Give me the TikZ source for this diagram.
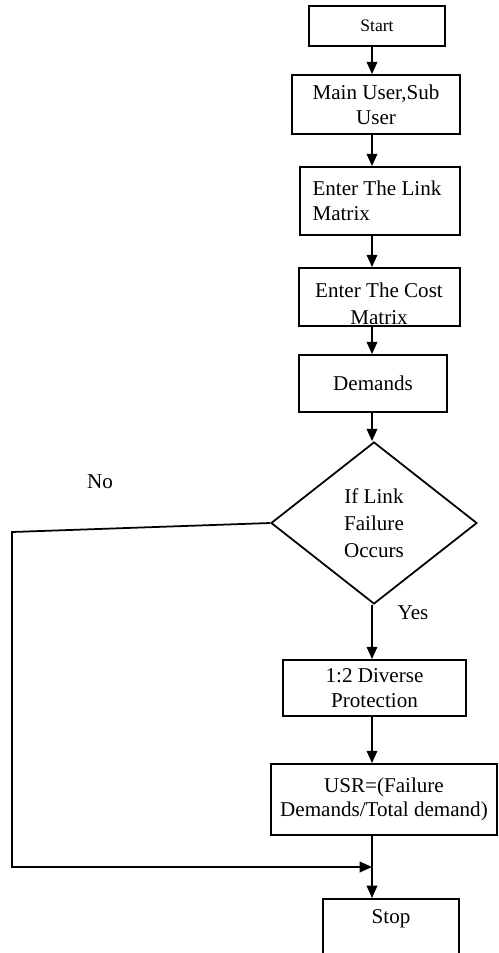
\documentclass[tikz,border=0pt]{standalone}
\usepackage{fontspec}
\setmainfont{Liberation Serif}
\usetikzlibrary{shapes.geometric,arrows.meta,positioning}

\begin{document}
\begin{tikzpicture}[x=0.02cm, y=-0.02cm,
    flowbox/.style={draw, line width=1pt, align=center, inner sep=2pt,
        font=\fontsize{12}{14}\selectfont},
    flowarrow/.style={-{Triangle[length=7pt,width=6pt]}, line width=1pt},
    flowtext/.style={font=\fontsize{12}{14}\selectfont}]
\useasboundingbox (0,0) rectangle (498,953);

% Main column
\coordinate (axis) at (372,0);
\node[flowbox, minimum width=2.72cm, minimum height=0.8cm, font=\fontsize{10}{12}\selectfont] (start) at (377,26) {Start};
\node[flowbox, minimum width=3.36cm, minimum height=1.18cm] (user) at (376,104.5) {Main User,Sub\\User};
\node[flowbox, minimum width=3.2cm, minimum height=1.36cm, text width=2.7cm, align=flush left] (link) at (380,201) {Enter The Link\\Matrix};
\node[flowbox, minimum width=3.22cm, minimum height=1.16cm] (cost) at (379.5,297) {};
\begin{scope}
  \clip ([yshift=2pt]cost.south west) rectangle (cost.north east);
  \node[flowtext, align=center, font=\fontsize{12}{15.5}\selectfont] (costtext) at (379,303.5) {Enter The Cost\\Matrix};
\end{scope}
\node[flowbox, minimum width=2.96cm, minimum height=1.14cm] (demands) at (373,383.5) {Demands};

% Decision
\node[flowbox, diamond, aspect=1.27, minimum width=4.12cm, minimum height=3.24cm, inner sep=0pt,
      font=\fontsize{12}{15.5}\selectfont] (fail) at (374,523) {If Link\\Failure\\Occurs};
\node[flowtext] (nolabel) at (100,482) {No};
\node[flowtext] (yeslabel) at (413,613) {Yes};

\node[flowbox, minimum width=3.66cm, minimum height=1.12cm] (prot) at (374.5,688) {1:2 Diverse\\Protection};
\node[flowbox, minimum width=4.52cm, minimum height=1.42cm] (usr) at (384,799.5) {USR=(Failure\\Demands/Total demand)};
\node[flowbox, minimum width=2.72cm, text height=12pt, text depth=1.3cm, anchor=north] (stop) at (391,898) {Stop};

% Arrows
\foreach \a/\b in {start/user, user/link, link/cost, cost/demands, demands/fail, fail/prot, prot/usr, usr/stop}
    \draw[flowarrow] (\a.south -| axis) -- (\b.north -| axis);

% No branch
\coordinate (nocorner) at (12,532);
\coordinate (merge) at (372,867);
\draw[flowarrow] (fail.west) -- (nocorner) |- (merge);

\end{tikzpicture}
\end{document}
